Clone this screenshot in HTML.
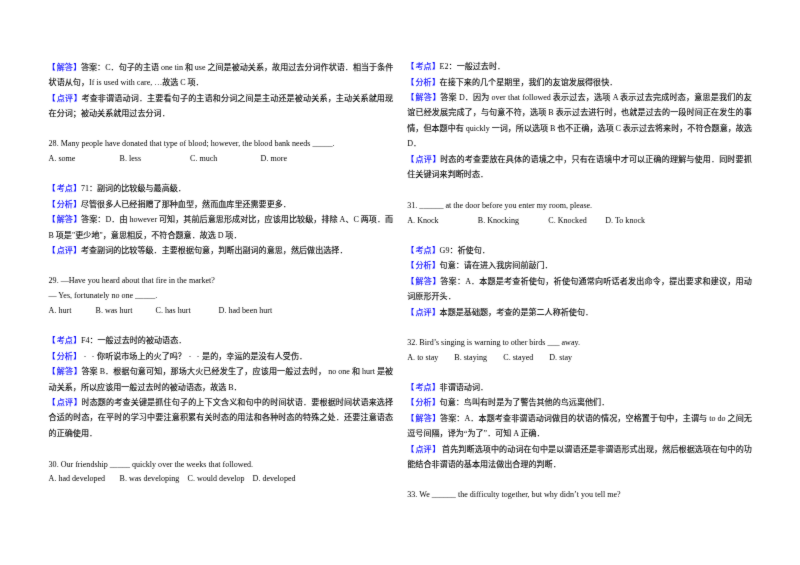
<!DOCTYPE html>
<html lang="zh-CN"><head><meta charset="utf-8"><title>page</title>
<style>
html,body{margin:0;padding:0;background:#fff;}
body{width:800px;height:565px;position:relative;overflow:hidden;font-family:"Liberation Serif","Noto Sans CJK SC",sans-serif;color:#000;}
.l{position:absolute;white-space:pre;font-size:8.095px;line-height:15.275px;height:15.275px;font-family:"Liberation Serif","Noto Sans CJK SC",sans-serif;}
.e{font-family:"Liberation Serif","Noto Sans CJK SC",serif;font-size:8.06px;}
.b{color:#0000ff;}
.e{letter-spacing:0;}
.sh{display:inline-block;position:relative;top:-1px;transform:scaleX(0.5);}
.g{margin-right:-0.2px;}
#pg{position:absolute;left:0;top:0;width:800px;height:565px;background:#fff;filter:url(#soft);-webkit-text-stroke:0.12px currentColor;}
.e{-webkit-text-stroke:0px currentColor;}
.bl{position:relative;left:-1px;}.br{position:relative;left:0.5px;}
</style></head><body>
<svg width="0" height="0" style="position:absolute"><defs><filter id="soft" x="0" y="0" width="100%" height="100%" color-interpolation-filters="sRGB"><feConvolveMatrix order="3" kernelMatrix="1 3 1 3 36 3 1 3 1" divisor="52" edgeMode="duplicate"/></filter></defs></svg>
<div id="pg">
<div class="l" id="p0" style="left:48.60px;top:60.00px;letter-spacing:0.004px;word-spacing:0.004px;"><span class="b"><span class="bl">【</span>解答<span class="br">】</span></span>答案：<span class="e">C</span>．句子的主语<span class="e"><span class="g"> </span>one tin<span class="g"> </span></span>和<span class="e"><span class="g"> </span>use<span class="g"> </span></span>之间是被动关系，故用过去分词作状语．相当于条件</div>
<div class="l" id="p1" style="left:48.60px;top:75.00px;">状语从句，<span class="e">If is used with care, …</span>故选<span class="e"><span class="g"> </span>C<span class="g"> </span></span>项．</div>
<div class="l" id="p2" style="left:48.60px;top:91.00px;letter-spacing:0.128px;word-spacing:0.128px;"><span class="b"><span class="bl">【</span>点评<span class="br">】</span></span>考查非谓语动词．主要看句子的主语和分词之间是主动还是被动关系，主动关系就用现</div>
<div class="l" id="p3" style="left:48.60px;top:106.00px;">在分词；被动关系就用过去分词．</div>
<div class="l" id="p4" style="left:48.60px;top:136.00px;"><span class="e">28. Many people have donated that type of blood; however, the blood bank needs _____.</span></div>
<div class="l" id="p5" style="left:48.60px;top:151.00px;"><span class="e">A. some</span></div>
<div class="l" id="p6" style="left:119.60px;top:151.00px;"><span class="e">B. less</span></div>
<div class="l" id="p7" style="left:190.10px;top:151.00px;"><span class="e">C. much</span></div>
<div class="l" id="p8" style="left:260.60px;top:151.00px;"><span class="e">D. more</span></div>
<div class="l" id="p9" style="left:48.60px;top:181.00px;"><span class="b"><span class="bl">【</span>考点<span class="br">】</span></span><span class="e">71</span>：副词的比较级与最高级．</div>
<div class="l" id="p10" style="left:48.60px;top:197.00px;"><span class="b"><span class="bl">【</span>分析<span class="br">】</span></span>尽管很多人已经捐赠了那种血型，然而血库里还需要更多．</div>
<div class="l" id="p11" style="left:48.60px;top:212.00px;letter-spacing:0.044px;word-spacing:0.044px;"><span class="b"><span class="bl">【</span>解答<span class="br">】</span></span>答案：<span class="e">D</span>．由<span class="e"><span class="g"> </span>however<span class="g"> </span></span>可知，其前后意思形成对比，应该用比较级，排除<span class="e"><span class="g"> </span>A</span>、<span class="e">C<span class="g"> </span></span>两项．而</div>
<div class="l" id="p12" style="left:48.60px;top:228.00px;"><span class="e">B<span class="g"> </span></span>项是<span class="e">"</span>更少地<span class="e">"</span>，意思相反，不符合题意．故选<span class="e"><span class="g"> </span>D<span class="g"> </span></span>项．</div>
<div class="l" id="p13" style="left:48.60px;top:243.00px;"><span class="b"><span class="bl">【</span>点评<span class="br">】</span></span>考查副词的比较等级．主要根据句意，判断出副词的意思，然后做出选择．</div>
<div class="l" id="p14" style="left:48.60px;top:273.00px;"><span class="e">29. —Have you heard about that fire in the market?</span></div>
<div class="l" id="p15" style="left:48.60px;top:288.00px;"><span class="e">— Yes, fortunately no one _____.</span></div>
<div class="l" id="p16" style="left:48.60px;top:303.00px;"><span class="e">A. hurt</span></div>
<div class="l" id="p17" style="left:95.60px;top:303.00px;"><span class="e">B. was hurt</span></div>
<div class="l" id="p18" style="left:155.60px;top:303.00px;"><span class="e">C. has hurt</span></div>
<div class="l" id="p19" style="left:218.60px;top:303.00px;"><span class="e">D. had been hurt</span></div>
<div class="l" id="p20" style="left:48.60px;top:333.00px;"><span class="b"><span class="bl">【</span>考点<span class="br">】</span></span><span class="e">F4</span>：一般过去时的被动语态．</div>
<div class="l" id="p21" style="left:48.60px;top:349.00px;"><span class="b"><span class="bl">【</span>分析<span class="br">】</span></span><span class="sh">﹣</span><span class="sh">﹣</span>你听说市场上的火了吗？<span class="sh">﹣</span><span class="sh">﹣</span>是的，幸运的是没有人受伤．</div>
<div class="l" id="p22" style="left:48.60px;top:364.00px;letter-spacing:0.111px;word-spacing:0.111px;"><span class="b"><span class="bl">【</span>解答<span class="br">】</span></span>答案<span class="e"><span class="g"> </span>B</span>．根据句意可知，那场大火已经发生了，应该用一般过去时，<span class="e"><span class="g"> </span>no one<span class="g"> </span></span>和<span class="e"><span class="g"> </span>hurt<span class="g"> </span></span>是被</div>
<div class="l" id="p23" style="left:48.60px;top:380.00px;">动关系，所以应该用一般过去时的被动语态，故选<span class="e"><span class="g"> </span>B</span>．</div>
<div class="l" id="p24" style="left:48.60px;top:395.00px;letter-spacing:0.128px;word-spacing:0.128px;"><span class="b"><span class="bl">【</span>点评<span class="br">】</span></span>时态题的考查关键是抓住句子的上下文含义和句中的时间状语．要根据时间状语来选择</div>
<div class="l" id="p25" style="left:48.60px;top:410.00px;letter-spacing:0.128px;word-spacing:0.128px;">合适的时态，在平时的学习中要注意积累有关时态的用法和各种时态的特殊之处．还要注意语态</div>
<div class="l" id="p26" style="left:48.60px;top:426.00px;">的正确使用．</div>
<div class="l" id="p27" style="left:48.60px;top:457.00px;"><span class="e">30. Our friendship _____ quickly over the weeks that followed.</span></div>
<div class="l" id="p28" style="left:48.60px;top:471.00px;"><span class="e">A. had developed</span></div>
<div class="l" id="p29" style="left:119.60px;top:471.00px;"><span class="e">B. was developing</span></div>
<div class="l" id="p30" style="left:187.60px;top:471.00px;"><span class="e">C. would develop</span></div>
<div class="l" id="p31" style="left:252.60px;top:471.00px;"><span class="e">D. developed</span></div>
<div class="l" id="p32" style="left:407.30px;top:59.00px;"><span class="b"><span class="bl">【</span>考点<span class="br">】</span></span><span class="e">E2</span>：一般过去时．</div>
<div class="l" id="p33" style="left:407.30px;top:75.00px;"><span class="b"><span class="bl">【</span>分析<span class="br">】</span></span>在接下来的几个星期里，我们的友谊发展得很快．</div>
<div class="l" id="p34" style="left:407.30px;top:90.00px;letter-spacing:0.176px;word-spacing:0.176px;"><span class="b"><span class="bl">【</span>解答<span class="br">】</span></span>答案<span class="e"><span class="g"> </span>D</span>．因为<span class="e"><span class="g"> </span>over that followed<span class="g"> </span></span>表示过去，选项<span class="e"><span class="g"> </span>A<span class="g"> </span></span>表示过去完成时态，意思是我们的友</div>
<div class="l" id="p35" style="left:407.30px;top:105.00px;letter-spacing:0.103px;word-spacing:0.103px;">谊已经发展完成了，与句意不符，选项<span class="e"><span class="g"> </span>B<span class="g"> </span></span>表示过去进行时，也就是过去的一段时间正在发生的事</div>
<div class="l" id="p36" style="left:407.30px;top:121.00px;letter-spacing:-0.004px;word-spacing:-0.004px;">情，但本题中有<span class="e"><span class="g"> </span>quickly<span class="g"> </span></span>一词，所以选项<span class="e"><span class="g"> </span>B<span class="g"> </span></span>也不正确，选项<span class="e"><span class="g"> </span>C<span class="g"> </span></span>表示过去将来时，不符合题意，故选</div>
<div class="l" id="p37" style="left:407.30px;top:136.00px;"><span class="e">D</span>．</div>
<div class="l" id="p38" style="left:407.30px;top:152.00px;letter-spacing:0.128px;word-spacing:0.128px;"><span class="b"><span class="bl">【</span>点评<span class="br">】</span></span>时态的考查要放在具体的语境之中，只有在语境中才可以正确的理解与使用．同时要抓</div>
<div class="l" id="p39" style="left:407.30px;top:167.00px;">住关键词来判断时态．</div>
<div class="l" id="p40" style="left:407.30px;top:198.00px;"><span class="e">31. ______ at the door before you enter my room, please.</span></div>
<div class="l" id="p41" style="left:407.30px;top:213.00px;"><span class="e">A. Knock</span></div>
<div class="l" id="p42" style="left:477.80px;top:213.00px;"><span class="e">B. Knocking</span></div>
<div class="l" id="p43" style="left:548.30px;top:213.00px;"><span class="e">C. Knocked</span></div>
<div class="l" id="p44" style="left:605.30px;top:213.00px;"><span class="e">D. To knock</span></div>
<div class="l" id="p45" style="left:407.30px;top:243.00px;"><span class="b"><span class="bl">【</span>考点<span class="br">】</span></span><span class="e">G9</span>：祈使句．</div>
<div class="l" id="p46" style="left:407.30px;top:258.00px;"><span class="b"><span class="bl">【</span>分析<span class="br">】</span></span>句意：请在进入我房间前敲门．</div>
<div class="l" id="p47" style="left:407.30px;top:274.00px;letter-spacing:0.187px;word-spacing:0.187px;"><span class="b"><span class="bl">【</span>解答<span class="br">】</span></span>答案：<span class="e">A</span>．本题是考查祈使句，祈使句通常向听话者发出命令，提出要求和建议，用动</div>
<div class="l" id="p48" style="left:407.30px;top:289.00px;">词原形开头．</div>
<div class="l" id="p49" style="left:407.30px;top:305.00px;"><span class="b"><span class="bl">【</span>点评<span class="br">】</span></span>本题是基础题，考查的是第二人称祈使句．</div>
<div class="l" id="p50" style="left:407.30px;top:335.00px;"><span class="e">32. Bird’s singing is warning to other birds ___ away.</span></div>
<div class="l" id="p51" style="left:407.30px;top:350.00px;"><span class="e">A. to stay</span></div>
<div class="l" id="p52" style="left:454.30px;top:350.00px;"><span class="e">B. staying</span></div>
<div class="l" id="p53" style="left:503.30px;top:350.00px;"><span class="e">C. stayed</span></div>
<div class="l" id="p54" style="left:549.30px;top:350.00px;"><span class="e">D. stay</span></div>
<div class="l" id="p55" style="left:407.30px;top:380.00px;"><span class="b"><span class="bl">【</span>考点<span class="br">】</span></span>非谓语动词．</div>
<div class="l" id="p56" style="left:407.30px;top:395.00px;"><span class="b"><span class="bl">【</span>分析<span class="br">】</span></span>句意：鸟叫有时是为了警告其他的鸟远离他们．</div>
<div class="l" id="p57" style="left:407.30px;top:411.00px;letter-spacing:0.091px;word-spacing:0.091px;"><span class="b"><span class="bl">【</span>解答<span class="br">】</span></span>答案：<span class="e">A</span>．本题考查非谓语动词做目的状语的情况，空格置于句中，主谓与<span class="e"><span class="g"> </span>to do<span class="g"> </span></span>之间无</div>
<div class="l" id="p58" style="left:407.30px;top:426.00px;">逗号间隔，译为<span class="e">“</span>为了<span class="e">”</span>．可知<span class="e"><span class="g"> </span>A<span class="g"> </span></span>正确．</div>
<div class="l" id="p59" style="left:407.30px;top:442.00px;letter-spacing:0.078px;word-spacing:0.078px;"><span class="b"><span class="bl">【</span>点评<span class="br">】</span></span><span class="e"> </span>首先判断选项中的动词在句中是以谓语还是非谓语形式出现，然后根据选项在句中的功</div>
<div class="l" id="p60" style="left:407.30px;top:457.00px;">能结合非谓语的基本用法做出合理的判断．</div>
<div class="l" id="p61" style="left:407.30px;top:487.00px;"><span class="e">33. We ______ the difficulty together, but why didn’t you tell me?</span></div>
</div></body></html>
